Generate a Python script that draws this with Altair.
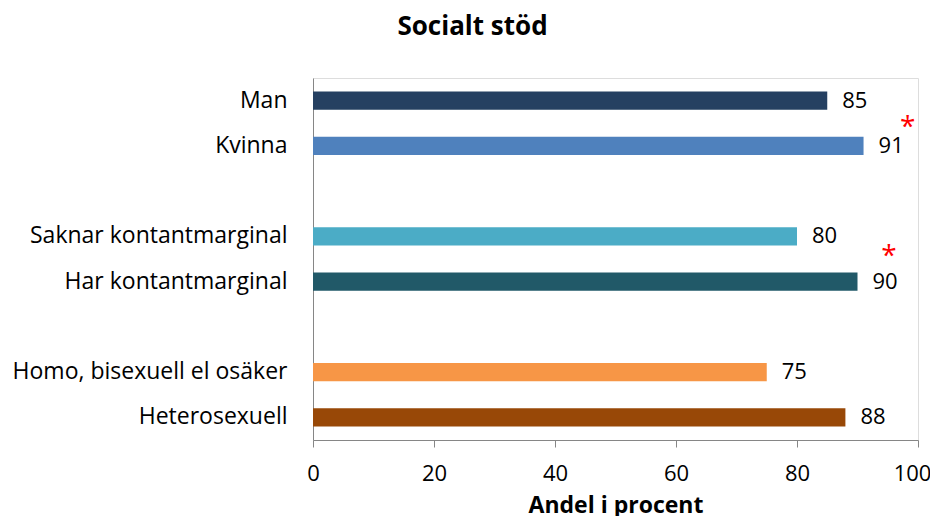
import altair as alt
import pandas as pd

categories = ["Man", "Kvinna", "Saknar kontantmarginal", "Har kontantmarginal",
              "Homo, bisexuell el osäker", "Heterosexuell"]
values = [85, 91, 80, 90, 75, 88]
colors = ["#254061", "#4F81BD", "#4BACC6", "#215968", "#F79646", "#984807"]
slots = ["Man", "Kvinna", " ", "Saknar kontantmarginal", "Har kontantmarginal", "  ",
         "Homo, bisexuell el osäker", "Heterosexuell"]
x_ticks = [0, 20, 40, 60, 80, 100]

star1_cat = ["Kvinna"]
star1_x = [98.3]
star2_cat = ["Har kontantmarginal"]
star2_x = [95.2]

FONT = "Open Sans"

df = pd.DataFrame({"cat": categories, "val": values})
s1 = pd.DataFrame({"cat": star1_cat, "val": star1_x, "t": ["*"]})
s2 = pd.DataFrame({"cat": star2_cat, "val": star2_x, "t": ["*"]})

y_enc = alt.Y("cat:N", scale=alt.Scale(domain=slots, paddingInner=0.6, paddingOuter=0.3),
              axis=alt.Axis(title=None, ticks=False, domainColor="#868686", labelFontSize=23,
                            labelPadding=26, labelColor="#000000", labelFont=FONT, labelLimit=400))
x_enc = alt.X("val:Q", scale=alt.Scale(domain=[0, 100], nice=False),
              axis=alt.Axis(values=x_ticks, title="Andel i procent", grid=False,
                            domainColor="#868686", tickColor="#868686", tickSize=7,
                            labelFontSize=22, labelPadding=16, labelColor="#000000", labelFont=FONT,
                            labelFlush=False, labelOverlap=False,
                            labelOffset={"condition": {"test": "datum.value == 100", "value": -6},
                                         "value": 0},
                            titleFontSize=23, titleFont=FONT, titleFontWeight="bold",
                            titleColor="#000000", titlePadding=10))

bars = alt.Chart(df).mark_bar().encode(
    x=x_enc, y=y_enc,
    color=alt.Color("cat:N", scale=alt.Scale(domain=categories, range=colors), legend=None),
)
labels = alt.Chart(df).mark_text(align="left", baseline="middle", dx=15, fontSize=22,
                                 font=FONT, color="#000000").encode(
    x="val:Q", y=alt.Y("cat:N"), text=alt.Text("val:Q"))
stars1 = alt.Chart(s1).mark_text(align="center", baseline="middle", dy=-18, fontSize=28,
                                 font=FONT, color="#FF0000").encode(
    x="val:Q", y=alt.Y("cat:N"), text="t:N")
stars2 = alt.Chart(s2).mark_text(align="center", baseline="middle", dy=-25, fontSize=28,
                                 font=FONT, color="#FF0000").encode(
    x="val:Q", y=alt.Y("cat:N"), text="t:N")

chart = alt.layer(bars, labels, stars1, stars2).properties(
    width=605, height=362,
    title=alt.TitleParams("Socialt stöd", fontSize=26, font=FONT, fontWeight="bold",
                          color="#000000", anchor="middle", dx=-143, offset=38),
    autosize=alt.AutoSizeParams(type="none"),
    padding={"left": 305, "top": 70, "right": 12, "bottom": 76},
).configure_view(stroke=None).configure(background="white")

chart.save("out.html", embed_options={"renderer": "svg", "actions": False})
